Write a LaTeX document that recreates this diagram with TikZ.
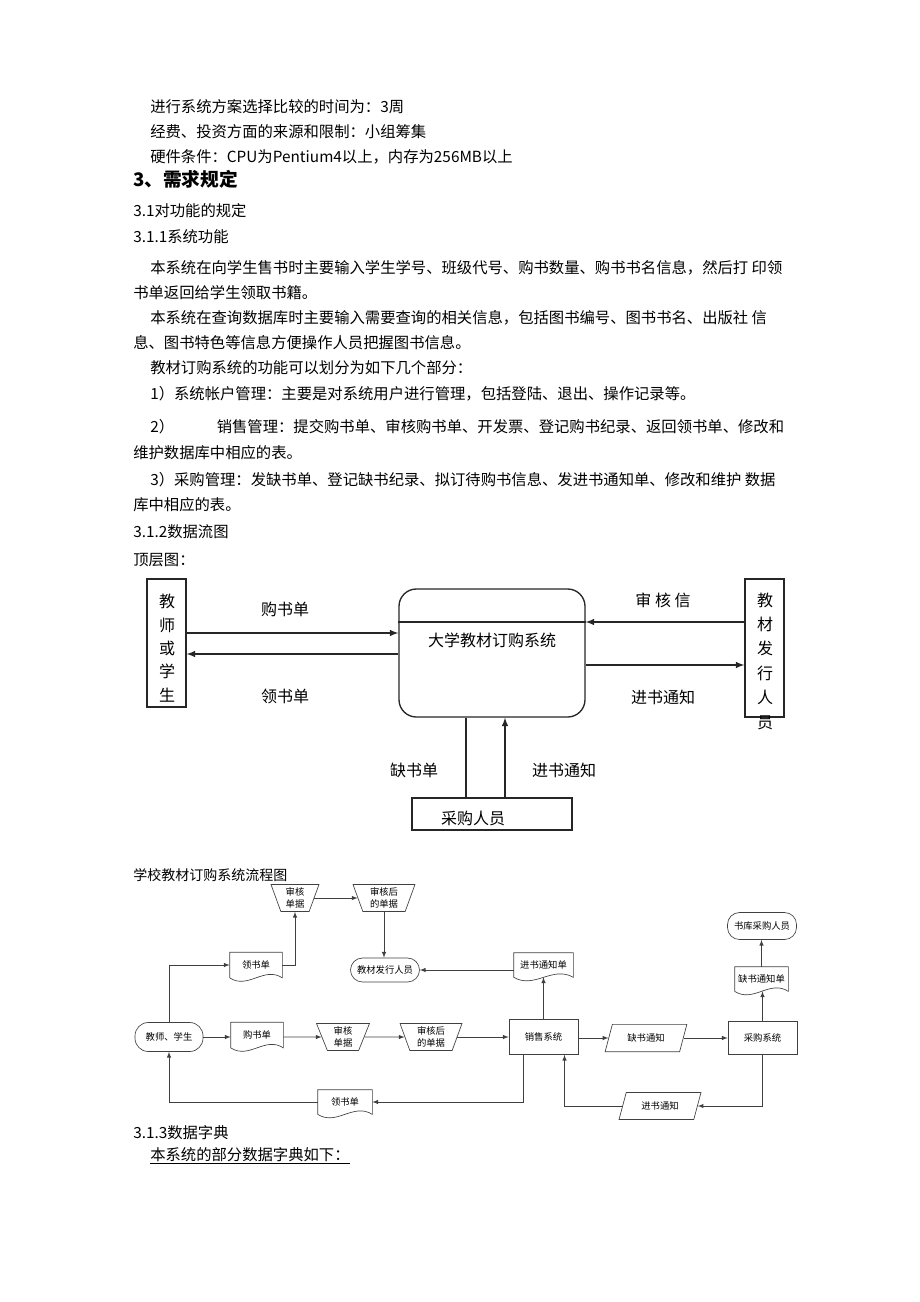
\documentclass[tikz,border=0pt]{standalone}
\usepackage{fontspec}
\setmainfont{Noto Sans CJK SC}
\usetikzlibrary{shapes.geometric,calc}

\begin{document}
\begin{tikzpicture}[x=0.75pt, y=-0.75pt,
    % Styles
    para/.style={anchor=west, inner sep=0pt, font=\fontsize{11.5pt}{14pt}\selectfont, text height=0.88em, text depth=0.12em},
    section/.style={para, font=\fontsize{14pt}{17pt}\selectfont\bfseries},
    dfbox/.style={draw=black!85, line width=1pt, inner sep=0pt},
    dflabel/.style={inner sep=0pt, font=\fontsize{12pt}{14pt}\selectfont},
    vlabel/.style={inner sep=0pt, align=center, font=\fontsize{12pt}{17.5pt}\selectfont},
    df-arrow/.style={-latex, black!85, line width=1.2pt},
    df-line/.style={black!85, line width=1.2pt},
    chart/.style={draw=black!75, line width=0.5pt, inner sep=0pt, align=center, font=\fontsize{7pt}{8.5pt}\selectfont},
    terminal/.style={chart, rounded corners=9pt, minimum width=51.75pt},
    process/.style={chart, minimum width=51.75pt},
    manual/.style={chart, trapezium, trapezium angle=72, shape border rotate=180, trapezium stretches=true, minimum height=20.25pt},
    data/.style={chart, trapezium, trapezium left angle=65, trapezium right angle=115, trapezium stretches=true, minimum width=61.5pt, minimum height=20.5pt},
    docnode/.style={chart, draw=none, minimum height=18.75pt},
    chart-arrow/.style={-latex, black!75, line width=0.5pt},
    chart-line/.style={black!75, line width=0.5pt},
]
\useasboundingbox (0,0) rectangle (920,1302);

% Body text
\node[para] (t1) at (150,107) {进行系统方案选择比较的时间为：3周};
\node[para] (t2) at (150,132) {经费、投资方面的来源和限制：小组筹集};
\node[para] (t3) at (150,157) {硬件条件：CPU为Pentium4以上，内存为256MB以上};
\node[section] (h3) at (133,181) {3、需求规定};
\node[para] (t4) at (133,211) {3.1对功能的规定};
\node[para] (t5) at (133,237) {3.1.1系统功能};
\node[para] (t6) at (150,268) {本系统在向学生售书时主要输入学生学号、班级代号、购书数量、购书书名信息，然后打 印领};
\node[para] (t7) at (133,293) {书单返回给学生领取书籍。};
\node[para] (t8) at (150,318) {本系统在查询数据库时主要输入需要查询的相关信息，包括图书编号、图书书名、出版社 信};
\node[para] (t9) at (133,343) {息、图书特色等信息方便操作人员把握图书信息。};
\node[para] (t10) at (150,368) {教材订购系统的功能可以划分为如下几个部分：};
\node[para] (t11) at (150,394) {1）系统帐户管理：主要是对系统用户进行管理，包括登陆、退出、操作记录等。};
\node[para] (t12) at (150,427) {2）\hspace{32pt}销售管理：提交购书单、审核购书单、开发票、登记购书纪录、返回领书单、修改和};
\node[para] (t13) at (133,453) {维护数据库中相应的表。};
\node[para] (t14) at (150,480) {3）采购管理：发缺书单、登记缺书纪录、拟订待购书信息、发进书通知单、修改和维护 数据};
\node[para] (t15) at (133,505) {库中相应的表。};
\node[para] (t16) at (133,532) {3.1.2数据流图};
\node[para] (t17) at (133,560) {顶层图：};

% Top level data flow diagram
\node[dfbox, minimum width=29.25pt, minimum height=96pt] (user) at (166.5,643) {};
\node[vlabel] (usertxt) at (167,648) {教\\师\\或\\学\\生};
\node[dfbox, rounded corners=13pt, minimum width=139.5pt, minimum height=96pt] (sys) at (492,653) {};
\node[dflabel] (systxt) at (492,640) {大学教材订购系统};
\draw[df-line] (sys.west |- 0,622) -- (sys.east |- 0,622);
\node[dfbox, minimum width=29.25pt, minimum height=103.5pt] (pub) at (764.5,648) {};
\node[vlabel, font=\fontsize{12pt}{18.3pt}\selectfont] (pubtxt) at (765,661) {教\\材\\发\\行\\人\\员};
\node[dfbox, minimum width=120pt, minimum height=24pt] (buyer) at (492,814) {};
\node[dflabel] (buyertxt) at (473,818) {采购人员};

\draw[df-arrow] (user.east |- 0,633) -- (sys.west |- 0,633);
\draw[df-arrow] (sys.west |- 0,654) -- (user.east |- 0,654);
\draw[df-arrow] (pub.west |- 0,622) -- (sys.east |- 0,622);
\draw[df-arrow] (sys.east |- 0,665) -- (pub.west |- 0,665);
\draw[df-line] ($(buyer.north)+(-26,0)$) -- ($(sys.south)+(-26,0)$);
\draw[df-arrow] ($(buyer.north)+(13,0)$) -- ($(sys.south)+(13,0)$);

\node[dflabel] (lbuy) at (285,609) {购书单};
\node[dflabel] (lget) at (285,696) {领书单};
\node[dflabel] (lcheck) at (663,600) {审 核 信};
\node[dflabel] (lnotice) at (663,697) {进书通知};
\node[dflabel] (lshort) at (414,770) {缺书单};
\node[dflabel] (lin) at (564,770) {进书通知};

% Flow chart
\node[para, font=\fontsize{10.5pt}{12pt}\selectfont] (ftitle) at (133,875) {学校教材订购系统流程图};

% upper row
\node[manual, minimum width=36pt] (ck1) at (295,898) {审核\\单据};
\node[manual, minimum width=46.5pt] (ck2) at (384,898) {审核后\\的单据};
\node[docnode, minimum width=39pt] (ld1) at (256,965) {领书单};
\node[terminal, minimum height=18pt] (pubt) at (385,970) {教材发行人员};
\node[docnode, minimum width=44.25pt, minimum height=18pt] (jzd) at (543.5,965) {进书通知单};
\node[terminal, minimum height=20.25pt] (kcg) at (762,926) {书库采购人员};
\node[docnode, minimum width=39.75pt, minimum height=18pt] (qzd) at (761.5,979) {缺书通知单};

% middle row
\node[terminal, minimum width=51pt, minimum height=21.75pt, rounded corners=10pt] (stu) at (169,1037) {教师、学生};
\node[docnode, minimum width=39pt] (gsd) at (257,1035) {购书单};
\node[manual, minimum width=39.75pt] (ck3) at (343,1037) {审核\\单据};
\node[manual, minimum width=46.5pt] (ck4) at (431,1037) {审核后\\的单据};
\node[process, minimum height=26.25pt] (sale) at (543.5,1037) {销售系统};
\node[data] (qtz) at (646,1038) {缺书通知};
\node[process, minimum height=24.75pt] (buy) at (762.5,1037.5) {采购系统};

% lower row
\node[docnode, minimum width=40.5pt, minimum height=18pt] (ld2) at (345,1102) {领书单};
\node[data, minimum height=20.25pt] (jtz) at (660,1106) {进书通知};

% document outlines
\foreach \d in {ld1,gsd,ld2,jzd,qzd}
  \draw[chart-line] (\d.south west) -- (\d.north west) -- (\d.north east) -- (\d.south east)
    .. controls ($(\d.south east)!0.35!(\d.south west)+(0,-12)$) and ($(\d.south east)!0.65!(\d.south west)+(0,12)$) .. (\d.south west);

% connectors
\draw[chart-arrow] (stu.east) -- (stu.east -| gsd.west);
\draw[chart-arrow] (gsd.east |- stu.east) -- (ck3.west);
\draw[chart-arrow] (ck3.east) -- (ck4.west);
\draw[chart-arrow] (ck4.east) -- (ck4.east -| sale.west);
\draw[chart-arrow] (sale.east |- qtz.west) -- (qtz.west);
\draw[chart-arrow] (qtz.east) -- (qtz.east -| buy.west);
\draw[chart-arrow] (buy.north) -- (buy.north |- qzd.south);
\draw[chart-arrow] (qzd.north) -- (qzd.north |- kcg.south);
\draw[chart-arrow] (sale.north) -- (jzd.south);
\draw[chart-arrow] (jzd.west |- pubt.east) -- (pubt.east);
\draw[chart-arrow] (ck2.south) -- (ck2.south |- pubt.north);
\draw[chart-arrow] (ck1.east) -- (ck1.east -| ck2.west);
\draw[chart-arrow] (ld1.east) -| (ck1.south);
\draw[chart-arrow] (stu.north) |- (ld1.west);
\draw[chart-arrow] ($(sale.south)+(-20.5,0)$) |- (ld2.east);
\draw[chart-arrow] (ld2.west) -| (stu.south);
\draw[chart-arrow] (buy.south) |- (jtz.east);
\draw[chart-arrow] (jtz.west) -| ($(sale.south)+(21,0)$);

% Data dictionary
\node[para] (t18) at (133,1133) {3.1.3数据字典};
\node[para] (t19) at (150,1155) {\underline{本系统的部分数据字典如下：}};

\end{tikzpicture}
\end{document}
